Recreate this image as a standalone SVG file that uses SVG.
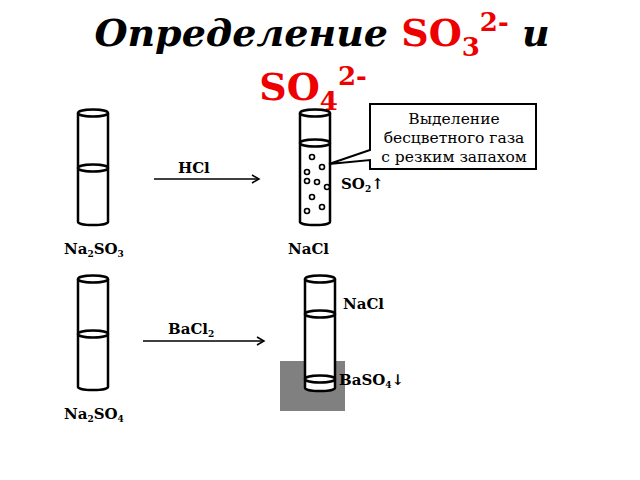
<svg xmlns="http://www.w3.org/2000/svg" width="640" height="480" viewBox="0 0 640 480">
<style>
.t{fill:#fff;stroke:#000;stroke-width:2.5}
.b{fill:#fff;stroke:#000;stroke-width:1.6}
.lab{font-family:"DejaVu Serif",serif;font-weight:bold;font-size:15px;fill:#000}
.sub{font-size:9px}
.ttl{font-family:"DejaVu Serif",serif;font-weight:bold;font-size:38px}
</style>
<defs><marker id="a" markerWidth="10" markerHeight="10" refX="8" refY="5" orient="auto" markerUnits="userSpaceOnUse"><path d="M1,1 L8,5 L1,9" fill="none" stroke="#000" stroke-width="1.5"/></marker></defs>
<g id="title">
<text x="322" y="46" text-anchor="middle" class="ttl"><tspan font-style="italic" fill="#000">Определение </tspan><tspan fill="#e00">SO<tspan font-size="26" dy="10">3</tspan><tspan font-size="26" dy="-25">2-</tspan></tspan><tspan font-style="italic" fill="#000" dy="15"> и</tspan></text>
<text x="313" y="100" text-anchor="middle" class="ttl" fill="#e00">SO<tspan font-size="26" dy="10">4</tspan><tspan font-size="26" dy="-25">2-</tspan></text>
</g>
<g id="gray"><rect x="280" y="361" width="65" height="50" fill="#808080"/></g>
<g id="tube1">
<path class="t" d="M78,113 V222 A15,3 0 0 0 108,222 V113"/>
<ellipse class="t" cx="93" cy="113" rx="15" ry="3.5"/>
<ellipse class="t" cx="93" cy="168" rx="15" ry="3.5"/>
<text class="lab" x="64" y="254">Na<tspan class="sub" dy="3">2</tspan><tspan dy="-3">SO</tspan><tspan class="sub" dy="3">3</tspan></text>
</g>
<g id="tube2">
<path class="t" d="M300,113 V222 A15,3 0 0 0 330,222 V113"/>
<ellipse class="t" cx="315" cy="113" rx="15" ry="3.5"/>
<ellipse class="t" cx="315" cy="143" rx="15" ry="3.5"/>
<g class="b"><circle cx="312" cy="157" r="2.5"/><circle cx="322" cy="167" r="2.5"/><circle cx="307" cy="172" r="2.5"/><circle cx="307" cy="181" r="2.5"/><circle cx="317" cy="182" r="2.5"/><circle cx="327" cy="187" r="2.5"/><circle cx="312" cy="197" r="2.5"/><circle cx="322" cy="207" r="2.5"/><circle cx="307" cy="211" r="2.5"/></g>
<text class="lab" x="288" y="254">NaCl</text>
<text class="lab" x="341" y="189">SO<tspan class="sub" dy="3">2</tspan><tspan dy="-3">↑</tspan></text>
</g>
<g id="callout">
<path d="M370,104 H536 V169 H370 V160 L329,164 L370,150 Z" fill="#fff" stroke="#000" stroke-width="2"/>
<g font-family="'DejaVu Serif',serif" font-size="15.5" text-anchor="middle"><text x="454" y="124">Выделение</text><text x="454" y="143">бесцветного газа</text><text x="454" y="162">с резким запахом</text></g>
</g>
<g id="tube3">
<path class="t" d="M78,279 V387 A15,3 0 0 0 108,387 V279"/>
<ellipse class="t" cx="93" cy="279" rx="15" ry="3.5"/>
<ellipse class="t" cx="93" cy="334" rx="15" ry="3.5"/>
<text class="lab" x="64" y="419">Na<tspan class="sub" dy="3">2</tspan><tspan dy="-3">SO</tspan><tspan class="sub" dy="3">4</tspan></text>
</g>
<g id="tube4">
<path class="t" d="M305,279 V388 A15,3 0 0 0 335,388 V279"/>
<ellipse class="t" cx="320" cy="279" rx="15" ry="3.5"/>
<ellipse class="t" cx="320" cy="314" rx="15" ry="3.5"/>
<ellipse class="t" cx="320" cy="379" rx="15" ry="3.5"/>
<text class="lab" x="343" y="309">NaCl</text>
<text class="lab" x="339" y="385">BaSO<tspan class="sub" dy="3">4</tspan><tspan dy="-3">↓</tspan></text>
</g>
<g id="connectors">
<line x1="154" y1="179" x2="259" y2="179" stroke="#000" stroke-width="1.5" marker-end="url(#a)"/>
<line x1="143" y1="341" x2="264" y2="341" stroke="#000" stroke-width="1.5" marker-end="url(#a)"/>
<text class="lab" x="178" y="173">HCl</text>
<text class="lab" x="168" y="334">BaCl<tspan class="sub" dy="3">2</tspan></text>
</g>
</svg>
